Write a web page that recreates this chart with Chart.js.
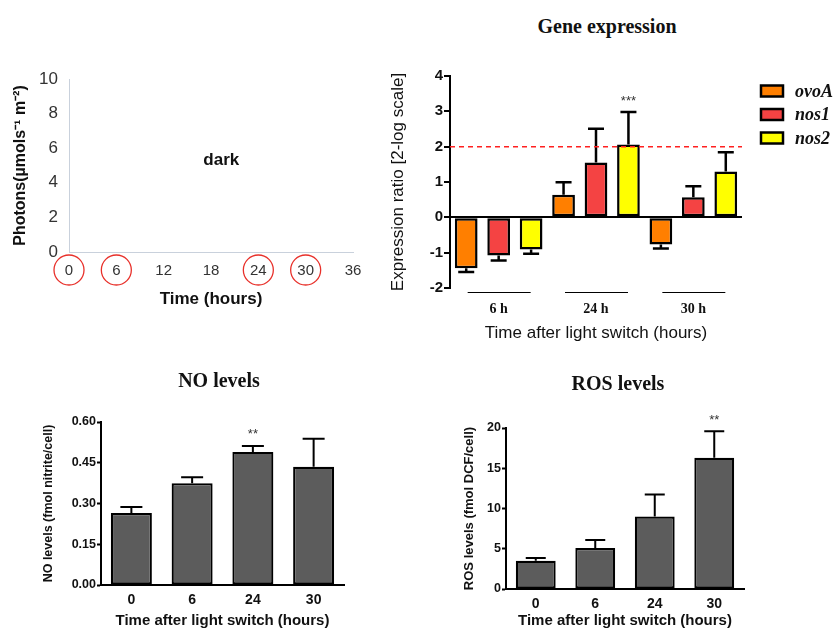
<!DOCTYPE html>
<html>
<head>
<meta charset="utf-8">
<script src="https://cdn.jsdelivr.net/npm/chart.js@4.4.0/dist/chart.umd.min.js"></script>
<style>
  body { margin: 0; background: #fff; }
  #page { position: relative; width: 833px; height: 628px; overflow: hidden; background: #fff; }
  canvas { position: absolute; }
  .ttl { position: absolute; font-family: 'Liberation Serif', 'Times New Roman', serif; font-weight: bold; font-size: 20px; color: #111; transform: translate(-50%, -50%); white-space: nowrap; }
</style>
</head>
<body>
<div id="page">
  <canvas id="lightChart" width="375" height="290" style="left:0;top:40px"></canvas>
  <canvas id="geneChart" width="453" height="310" style="left:380px;top:40px"></canvas>
  <canvas id="noChart" width="330" height="238" style="left:30px;top:390px"></canvas>
  <canvas id="rosChart" width="310" height="238" style="left:440px;top:390px"></canvas>
  <div class="ttl" style="left:607px;top:26px">Gene expression</div>
  <div class="ttl" style="left:219px;top:380px">NO levels</div>
  <div class="ttl" style="left:618px;top:383px">ROS levels</div>
</div>
<script>
// ---- data ----
// light regime panel (dark, no light series)
const hourTicks = [0, 6, 12, 18, 24, 30, 36];
const circledHours = [0, 6, 24, 30];
const photons = [];

// gene expression (2-log ratio)
const geneGroups = ['6 h', '24 h', '30 h'];
const ovoA = [-1.44, 0.64, -0.77];
const ovoAErr = [0.11, 0.35, 0.11];
const nos1 = [-1.08, 1.55, 0.57];
const nos1Err = [0.14, 0.96, 0.31];
const nos2 = [-0.91, 2.06, 1.30];
const nos2Err = [0.12, 0.92, 0.54];
const threshold = 2;

// NO / ROS levels
const timePoints = ['0', '6', '24', '30'];
const noLevels = [0.265, 0.375, 0.49, 0.435];
const noErr = [0.022, 0.022, 0.022, 0.103];
const rosLevels = [3.5, 5.1, 9.0, 16.3];
const rosErr = [0.35, 1.0, 2.75, 3.3];

const SANS = "'Liberation Sans', Arial, sans-serif";
const SERIF = "'Liberation Serif', 'Times New Roman', serif";

// fix the plot area inside a canvas: [left, top, right, bottom]
function fixArea(w, h, area) {
    return {
        padding: { left: 0, top: area[1], right: w - area[2], bottom: 0 },
        yFit: s => { s.width = area[0]; },
        xFit: s => { s.height = h - area[3]; }
    };
}

// error bars + significance stars
const errorBarPlugin = {
    id: 'errorBars',
    afterDatasetsDraw(chart, args, opts) {
        const ctx = chart.ctx;
        const y = chart.scales.y;
        chart.data.datasets.forEach((ds, di) => {
            const errs = opts.errors[di];
            if (!errs) return;
            chart.getDatasetMeta(di).data.forEach((bar, i) => {
                const v = ds.data[i];
                const tip = y.getPixelForValue(v < 0 ? v - errs[i] : v + errs[i]);
                ctx.save();
                ctx.strokeStyle = '#000';
                ctx.lineWidth = opts.lineWidth;
                ctx.beginPath();
                ctx.moveTo(bar.x, bar.y);
                ctx.lineTo(bar.x, tip);
                ctx.moveTo(bar.x - opts.cap, tip);
                ctx.lineTo(bar.x + opts.cap, tip);
                ctx.stroke();
                ctx.restore();
            });
        });
        (opts.stars || []).forEach(s => {
            const bar = chart.getDatasetMeta(s.dataset).data[s.index];
            const v = chart.data.datasets[s.dataset].data[s.index];
            const tip = y.getPixelForValue(v + opts.errors[s.dataset][s.index]);
            ctx.save();
            ctx.fillStyle = '#333';
            ctx.font = '13px ' + SANS;
            ctx.textAlign = 'center';
            ctx.textBaseline = 'middle';
            ctx.fillText(s.text, bar.x, tip - 11);
            ctx.restore();
        });
    }
};

// ---- panel 1: light regime ----
const f1 = fixArea(375, 290, [69, 39, 353, 212]);
new Chart(document.getElementById('lightChart'), {
    type: 'scatter',
    data: { datasets: [{ label: 'Photons', data: photons, showLine: true, borderColor: '#f0c000' }] },
    options: {
        responsive: false,
        animation: false,
        layout: { padding: f1.padding },
        plugins: { legend: { display: false }, tooltip: { enabled: false } },
        scales: {
            x: {
                type: 'linear', min: 0, max: 36,
                afterFit: f1.xFit,
                afterBuildTicks: s => { s.ticks = hourTicks.map(v => ({ value: v })); },
                grid: { display: false, drawTicks: false },
                border: { display: true, color: '#c9d1dc', width: 1 },
                ticks: { color: '#333', font: { family: SANS, size: 15 }, padding: 10 },
                title: { display: true, text: 'Time (hours)', color: '#111', font: { family: SANS, size: 17, weight: 'bold' }, padding: { top: 0, bottom: 20 } }
            },
            y: {
                min: 0, max: 10,
                afterFit: f1.yFit,
                grid: { display: false, drawTicks: false },
                border: { display: true, color: '#c9d1dc', width: 1 },
                ticks: { stepSize: 2, color: '#333', font: { family: SANS, size: 17 }, padding: 11 },
                title: { display: true, text: 'Photons(µmols⁻¹ m⁻²)', color: '#111', font: { family: SANS, size: 16, weight: 'bold' }, padding: { top: 11, bottom: 0 } }
            }
        }
    },
    plugins: [{
        id: 'lightMarks',
        afterDraw(chart) {
            const ctx = chart.ctx;
            const x = chart.scales.x, y = chart.scales.y;
            ctx.save();
            ctx.strokeStyle = '#e8302a';
            ctx.lineWidth = 1.3;
            circledHours.forEach(h => {
                ctx.beginPath();
                ctx.arc(x.getPixelForValue(h), chart.chartArea.bottom + 18, 15, 0, Math.PI * 2);
                ctx.stroke();
            });
            ctx.fillStyle = '#111';
            ctx.font = 'bold 17px ' + SANS;
            ctx.textAlign = 'center';
            ctx.textBaseline = 'middle';
            ctx.fillText('dark', x.getPixelForValue(19.3), y.getPixelForValue(5.3));
            ctx.restore();
        }
    }]
});

// ---- panel 2: gene expression ----
const f2 = fixArea(453, 310, [70, 36, 362, 248]);
const geneSeries = [
    { label: 'ovoA', data: ovoA, color: '#ff7f00' },
    { label: 'nos1', data: nos1, color: '#f44343' },
    { label: 'nos2', data: nos2, color: '#ffff00' }
];
new Chart(document.getElementById('geneChart'), {
    type: 'bar',
    data: {
        labels: geneGroups,
        datasets: geneSeries.map(s => ({
            label: s.label, data: s.data, backgroundColor: s.color,
            borderColor: '#000', borderWidth: 2.5, borderSkipped: false,
            categoryPercentage: 1, barPercentage: 0.7
        }))
    },
    options: {
        responsive: false,
        animation: false,
        layout: { padding: f2.padding },
        plugins: {
            legend: { display: false }, tooltip: { enabled: false },
            errorBars: { errors: [ovoAErr, nos1Err, nos2Err], cap: 8, lineWidth: 2.5,
                         stars: [{ dataset: 2, index: 1, text: '***' }] }
        },
        scales: {
            x: {
                afterFit: f2.xFit,
                grid: { display: false, drawTicks: false },
                border: { display: false },
                ticks: { color: '#111', font: { family: SERIF, size: 14, weight: 'bold' }, padding: 13 },
                title: { display: true, text: 'Time after light switch (hours)', color: '#111', font: { family: SANS, size: 17 }, padding: { top: 0, bottom: 6 } }
            },
            y: {
                min: -2, max: 4,
                afterFit: f2.yFit,
                grid: {
                    drawOnChartArea: true,
                    color: c => (c.tick && c.tick.value === 0 ? '#000' : 'rgba(0,0,0,0)'),
                    lineWidth: 2,
                    tickColor: '#000', tickLength: 6, tickWidth: 2
                },
                border: { display: true, color: '#000', width: 2 },
                ticks: { stepSize: 1, color: '#111', font: { family: SANS, size: 15, weight: 'bold' }, padding: 1 },
                title: { display: true, text: 'Expression ratio [2-log scale]', color: '#111', font: { family: SANS, size: 17 }, padding: { top: 8, bottom: 0 } }
            }
        }
    },
    plugins: [errorBarPlugin, {
        id: 'geneExtras',
        afterDraw(chart) {
            const ctx = chart.ctx;
            const x = chart.scales.x, y = chart.scales.y;
            const area = chart.chartArea;
            ctx.save();
            // threshold line
            ctx.strokeStyle = '#ff2020';
            ctx.lineWidth = 1.5;
            ctx.setLineDash([5, 4]);
            ctx.beginPath();
            ctx.moveTo(area.left, y.getPixelForValue(threshold));
            ctx.lineTo(area.right, y.getPixelForValue(threshold));
            ctx.stroke();
            ctx.setLineDash([]);
            // group underlines
            ctx.strokeStyle = '#000';
            ctx.lineWidth = 1;
            geneGroups.forEach((g, i) => {
                const cx = x.getPixelForValue(i);
                ctx.beginPath();
                ctx.moveTo(cx - 31, area.bottom + 4.5);
                ctx.lineTo(cx + 32, area.bottom + 4.5);
                ctx.stroke();
            });
            // legend
            ctx.font = 'italic bold 18px ' + SERIF;
            ctx.textBaseline = 'middle';
            geneSeries.forEach((s, i) => {
                const ly = 51 + i * 23.5;
                ctx.fillStyle = s.color;
                ctx.fillRect(381, ly - 5.5, 22, 11);
                ctx.lineWidth = 2.5;
                ctx.strokeStyle = '#000';
                ctx.strokeRect(381, ly - 5.5, 22, 11);
                ctx.fillStyle = '#111';
                ctx.fillText(s.label, 415, ly + 1);
            });
            ctx.restore();
        }
    }]
});

// ---- panels 3 and 4: NO and ROS levels ----
function levelChart(id, w, h, area, values, errs, max, step, decimals, yTitle, yTitleSize, yTitlePad, barPct, cap, stars) {
    const f = fixArea(w, h, area);
    return new Chart(document.getElementById(id), {
        type: 'bar',
        data: {
            labels: timePoints,
            datasets: [{
                data: values, backgroundColor: '#5c5c5c', borderColor: '#000',
                borderWidth: 2.2, borderSkipped: false,
                categoryPercentage: 1, barPercentage: barPct
            }]
        },
        options: {
            responsive: false,
            animation: false,
            layout: { padding: f.padding },
            plugins: {
                legend: { display: false }, tooltip: { enabled: false },
                errorBars: { errors: [errs], cap: cap, lineWidth: 2, stars: stars }
            },
            scales: {
                x: {
                    afterFit: f.xFit,
                    grid: { display: false, drawTicks: false },
                    border: { display: true, color: '#000', width: 2 },
                    ticks: { color: '#111', font: { family: SANS, size: 14, weight: 'bold' }, padding: 7 },
                    title: { display: true, text: 'Time after light switch (hours)', color: '#111', font: { family: SANS, size: 15, weight: 'bold', lineHeight: 1 }, padding: { top: 0, bottom: 0 } }
                },
                y: {
                    min: 0, max: max,
                    afterFit: f.yFit,
                    grid: { drawOnChartArea: false, tickColor: '#000', tickLength: 4, tickWidth: 2 },
                    border: { display: true, color: '#000', width: 2 },
                    ticks: { stepSize: step, color: '#111', font: { family: SANS, size: 12.5, weight: 'bold' }, padding: 1,
                             callback: v => v.toFixed(decimals) },
                    title: { display: true, text: yTitle, color: '#111', font: { family: SANS, size: yTitleSize, weight: 'bold' }, padding: { top: yTitlePad, bottom: 0 } }
                }
            }
        },
        plugins: [errorBarPlugin]
    });
}

levelChart('noChart', 330, 238, [71, 32, 314, 195], noLevels, noErr, 0.6, 0.15, 2,
    'NO levels (fmol nitrite/cell)', 12.5, 11, 0.675, 11, [{ dataset: 0, index: 2, text: '**' }]);
levelChart('rosChart', 310, 238, [66, 38, 304, 199], rosLevels, rosErr, 20, 5, 0,
    'ROS levels (fmol DCF/cell)', 13, 22, 0.67, 10, [{ dataset: 0, index: 3, text: '**' }]);
</script>
</body>
</html>
